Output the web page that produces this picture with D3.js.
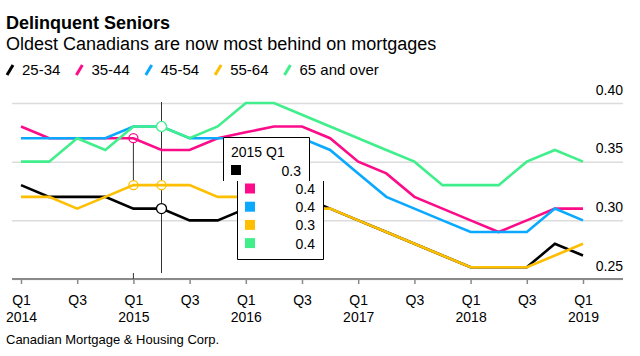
<!DOCTYPE html>
<html><head><meta charset="utf-8">
<script src="https://cdn.jsdelivr.net/npm/d3@7"></script>
<style>
body{margin:0;background:#fff}
svg{display:block;font-family:"Liberation Sans",Arial,Helvetica,sans-serif}
</style></head><body>
<svg id="c" width="640" height="356"></svg>
<script>
// ---- data ----
const categories = ["2014 Q1","2014 Q2","2014 Q3","2014 Q4","2015 Q1","2015 Q2","2015 Q3","2015 Q4",
  "2016 Q1","2016 Q2","2016 Q3","2016 Q4","2017 Q1","2017 Q2","2017 Q3","2017 Q4",
  "2018 Q1","2018 Q2","2018 Q3","2018 Q4","2019 Q1"];
const seriesNames = ["25-34","35-44","45-54","55-64","65 and over"];
const seriesColors = ["#000000","#fc0c89","#0aa9ff","#fdbf00","#40ef8c"];
const age2534 = [0.33,0.32,0.32,0.32,0.31,0.31,0.30,0.30,0.31,0.32,0.32,0.31,0.30,0.29,0.28,0.27,0.26,0.26,0.26,0.28,0.27];
const age3544 = [0.38,0.37,0.37,0.37,0.37,0.36,0.36,0.37,0.375,0.38,0.38,0.37,0.35,0.34,0.32,0.31,0.30,0.29,0.30,0.31,0.31];
const age4554 = [0.37,0.37,0.37,0.37,0.38,0.38,0.37,0.37,0.37,0.37,0.37,0.36,0.34,0.32,0.31,0.30,0.29,0.29,0.29,0.31,0.30];
const age5564 = [0.32,0.32,0.31,0.32,0.33,0.33,0.33,0.32,0.32,0.32,0.31,0.31,0.30,0.29,0.28,0.27,0.26,0.26,0.26,0.27,0.28];
const age65up = [0.35,0.35,0.37,0.36,0.38,0.38,0.37,0.38,0.40,0.40,0.39,0.38,0.37,0.36,0.35,0.33,0.33,0.33,0.35,0.36,0.35];
const seriesValues = [age2534, age3544, age4554, age5564, age65up];
const yTicks = [0.25, 0.30, 0.35, 0.40];
const xTickQuarters = ["Q1","Q3"];
const titleText = "Delinquent Seniors";
const subtitleText = "Oldest Canadians are now most behind on mortgages";
const sourceText = "Canadian Mortgage & Housing Corp.";
const tooltipIndex = 4;   // "2015 Q1"
const cursorIndex = 5;

// ---- layout ----
const svg = d3.select("#c");
const x = d3.scalePoint().domain(categories).range([21, 583]);
const y = d3.scaleLinear().domain([0.25, 0.40]).range([279, 103]);
const gridLeft = 12, gridRight = 623;

svg.append("text").attr("x", 6).attr("y", 29).attr("font-size", 18).attr("font-weight", "bold")
  .attr("fill", "#000").text(titleText);
svg.append("text").attr("x", 6).attr("y", 50).attr("font-size", 18).attr("fill", "#000").text(subtitleText);

// legend
const leg = svg.append("g");
let lx = 7;
seriesNames.forEach((n, i) => {
  leg.append("line").attr("x1", lx).attr("y1", 75).attr("x2", lx + 6).attr("y2", 65)
    .attr("stroke", seriesColors[i]).attr("stroke-width", 3);
  const t = leg.append("text").attr("x", lx + 15).attr("y", 75).attr("font-size", 15).attr("fill", "#000").text(n);
  lx = lx + 15 + t.node().getComputedTextLength() + 16;
});

// y grid + labels
const yAxis = svg.append("g").attr("transform", `translate(${gridRight},0)`)
  .call(d3.axisLeft(y).tickValues(yTicks).tickSize(gridRight - gridLeft).tickFormat(d3.format(".2f")));
yAxis.select(".domain").remove();
yAxis.selectAll(".tick line").attr("stroke", "#dcdcdc").attr("stroke-width", 1.5);
yAxis.selectAll(".tick text").attr("x", 0).attr("y", -9).attr("dy", 0).attr("text-anchor", "end")
  .attr("font-size", 14).attr("fill", "#000").attr("font-family", null);

// x axis
const xAxis = svg.append("g").attr("transform", `translate(0,279)`)
  .call(d3.axisBottom(x).tickValues(categories.filter(c => xTickQuarters.includes(c.split(" ")[1])))
    .tickSize(5).tickSizeOuter(0).tickFormat(""));
xAxis.select(".domain").attr("d", `M${gridLeft},0H${gridRight}`).attr("stroke", "#8a8a8a").attr("stroke-width", 2);
xAxis.selectAll(".tick line").attr("stroke", "#8a8a8a").attr("stroke-width", 1.5);
xAxis.selectAll(".tick").each(function(d) {
  const [yr, q] = d.split(" ");
  const g = d3.select(this);
  g.select("text").remove();
  g.append("text").attr("y", 26).attr("text-anchor", "middle").attr("font-size", 14).attr("fill", "#000").text(q);
  if (q === "Q1") g.append("text").attr("y", 42.5).attr("text-anchor", "middle").attr("font-size", 14).attr("fill", "#000").text(yr);
});

svg.append("text").attr("x", 6).attr("y", 344).attr("font-size", 13).attr("fill", "#000").text(sourceText);

// cursor line
const cx = x(categories[cursorIndex]);
svg.append("line").attr("x1", cx).attr("x2", cx).attr("y1", 102).attr("y2", 273).attr("stroke", "#333").attr("stroke-width", 1);
const tx = x(categories[tooltipIndex]);
svg.append("line").attr("x1", tx).attr("x2", tx).attr("y1", y(age3544[tooltipIndex])).attr("y2", y(age5564[tooltipIndex]))
  .attr("stroke", "#333").attr("stroke-width", 1);
svg.append("line").attr("x1", tx).attr("x2", tx).attr("y1", 273).attr("y2", 279).attr("stroke", "#333").attr("stroke-width", 1);

// circles behind lines
const back = svg.append("g");
[[1, tooltipIndex], [3, tooltipIndex], [3, cursorIndex]].forEach(([s, i]) => {
  back.append("circle").attr("cx", x(categories[i])).attr("cy", y(seriesValues[s][i])).attr("r", 4.5)
    .attr("fill", "#fff").attr("stroke", seriesColors[s]).attr("stroke-width", 1.3);
});

// lines
const line = d3.line().x((d, i) => x(categories[i])).y(d => y(d));
seriesValues.forEach((vals, s) => {
  svg.append("path").datum(vals).attr("d", line).attr("fill", "none")
    .attr("stroke", seriesColors[s]).attr("stroke-width", 2.6).attr("stroke-linejoin", "miter");
});

// circles on top
[[4, cursorIndex], [0, cursorIndex]].forEach(([s, i]) => {
  svg.append("circle").attr("cx", x(categories[i])).attr("cy", y(seriesValues[s][i])).attr("r", 5)
    .attr("fill", "#fff").attr("stroke", s === 0 ? "#000" : seriesColors[s]).attr("stroke-width", 1.3);
});

// tooltip
const tip = svg.append("g");
const ux = 223, uy = 137, uw = 86, uh = 44, lxo = 237, lh = 78;
tip.append("rect").attr("x", ux).attr("y", uy).attr("width", uw).attr("height", uh).attr("fill", "#fff");
tip.append("rect").attr("x", lxo).attr("y", uy + uh).attr("width", uw).attr("height", lh).attr("fill", "#fff");
tip.append("path").attr("fill", "none").attr("stroke", "#000").attr("stroke-width", 1)
  .attr("d", `M${ux + .5},${uy + uh}V${uy + .5}H${ux + uw + .5}V${uy + uh}` +
             `M${lxo + .5},${uy + uh}V${uy + uh + lh + .5}H${lxo + uw + .5}V${uy + uh}`);
tip.append("text").attr("x", 231).attr("y", 157).attr("font-size", 14).attr("fill", "#000").text(categories[tooltipIndex]);
const fmt = d3.format(".1f");
seriesValues.forEach((vals, s) => {
  const first = s === 0;
  const sx = first ? 231 : 245;
  const cy = first ? 170 : 188.5 + (s - 1) * 18.2;
  tip.append("rect").attr("x", sx).attr("y", cy - 5).attr("width", 10).attr("height", 10).attr("fill", seriesColors[s]);
  tip.append("text").attr("x", first ? 301 : 315).attr("y", cy + 5.5).attr("text-anchor", "end")
    .attr("font-size", 14).attr("fill", "#000").text(fmt(vals[tooltipIndex]));
});
</script>
</body></html>
